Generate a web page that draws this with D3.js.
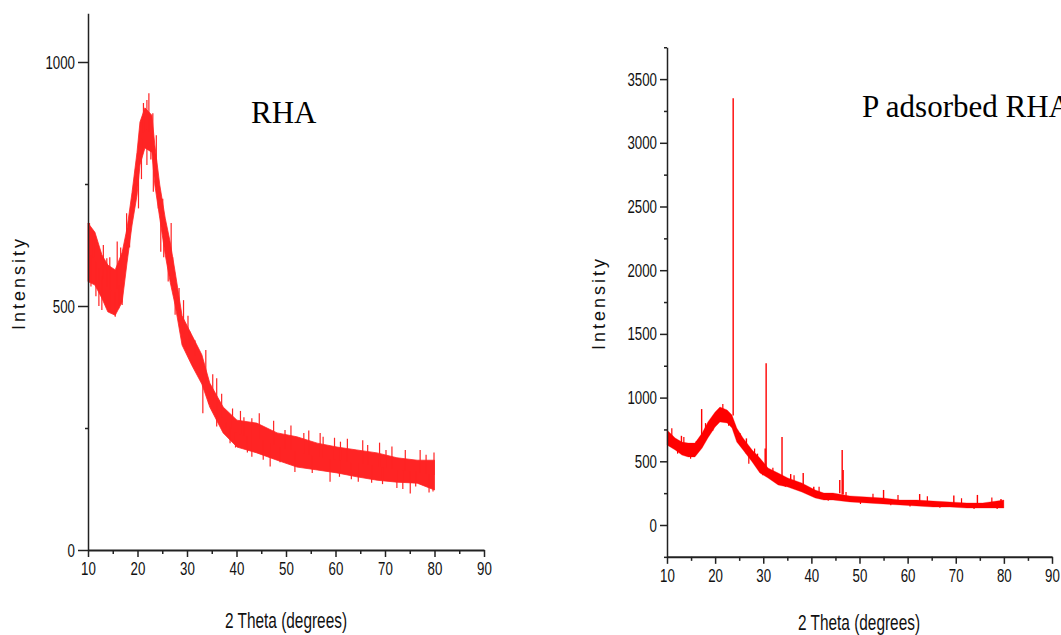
<!DOCTYPE html>
<html>
<head>
<meta charset="utf-8">
<script src="https://cdn.jsdelivr.net/npm/d3@7"></script>
<style>
  html, body { margin: 0; padding: 0; background: #fff; }
  svg { display: block; }
  .tick text { font-family: "Liberation Sans", Arial, sans-serif; font-size: 19px; fill: #111; }
  .axis path, .axis line { stroke: #222; }
</style>
</head>
<body>
<svg id="chart" width="1061" height="635"></svg>
<script>
// ---------------- DATA ----------------
// Left panel: RHA — noisy band (upper / lower envelope) of the XRD pattern
const rhaX  = [10, 11.4, 12.8, 14, 15.5, 16.9, 17.9, 18.9, 19.9, 20.5, 21.5, 22.9, 23.5, 24.5, 25.6, 26.6, 27.6, 29, 31, 33, 34.6, 37.3, 40.1, 44.1, 48.2, 52.2, 56.3, 60.3, 64.3, 68.4, 72.4, 76.5, 80];
const rhaHi = [670, 651, 605, 584, 574, 610, 660, 733, 815, 877, 906, 891, 830, 748, 680, 631, 570, 480, 440, 400, 342, 293, 266, 260, 240, 232, 219, 211, 205, 199, 189, 184, 184];
const rhaLo = [550, 543, 516, 488, 481, 508, 590, 666, 727, 789, 824, 815, 748, 680, 605, 549, 502, 420, 378, 340, 293, 240, 211, 199, 184, 170, 164, 158, 150, 143, 139, 137, 123];
// Left panel: noise spikes that stick out of the band [2θ, intensity]
const rhaSpikes = [
  [22.3, 936], [21.9, 922], [21.2, 916], [23.1, 895], [10.3, 670], [11.1, 652], [13.8, 598],
  [15.9, 632], [17.8, 690], [19.2, 741], [26.8, 670], [28.4, 537], [30.6, 447], [36.0, 352],
  [12.8, 492], [15.5, 478], [16.9, 502], [21.9, 789], [23.2, 734], [24.7, 611], [26.2, 550],
  [27.6, 482], [29.3, 512], [43.1, 270], [49.8, 246], [57.5, 232], [75.1, 116], [79.7, 120],
  [46.8, 171], [58.9, 140], [64.6, 140], [72.4, 127], [33.2, 280], [36.0, 253], [38.7, 219],
  [43.1, 191], [41.5, 272], [53.6, 240], [61.0, 222], [66.5, 215], [70.2, 205], [78.3, 195],
  [10.6, 540], [11.6, 520], [12.2, 500], [13.1, 625], [14.4, 600], [14.7, 485], [16.2, 495],
  [16.6, 620], [17.3, 560], [18.4, 620], [19.6, 780], [20.2, 700], [20.8, 760], [22.7, 800],
  [23.8, 850], [24.2, 700], [25.1, 720], [25.3, 600], [27.1, 600], [27.9, 500], [29.8, 410],
  [30.2, 480], [31.6, 430], [32.4, 360], [33.8, 410], [34.4, 300], [35.2, 360], [37.0, 320],
  [37.8, 250], [39.2, 290], [39.8, 210], [40.8, 285], [42.2, 200], [44.6, 280], [45.4, 185],
  [47.5, 265], [48.8, 180], [51.0, 255], [51.8, 160], [54.6, 245], [55.3, 158], [56.9, 240],
  [59.8, 230], [60.8, 150], [62.4, 228], [63.2, 145], [65.5, 225], [67.3, 138], [68.9, 220],
  [69.5, 135], [71.4, 212], [73.6, 125], [74.1, 205], [76.2, 130], [77.1, 205], [78.9, 118],
  [79.9, 200]
];

// Right panel: P adsorbed RHA — band envelope
const padX  = [10, 11.7, 13.1, 14.4, 15.8, 17.3, 18.5, 20.0, 21.0, 22.5, 23.5, 24.5, 25.8, 27.7, 29.3, 31.0, 33.1, 35.1, 38.0, 40.8, 42.6, 44.5, 48.0, 51.5, 54.9, 58.4, 61.9, 65.3, 68.8, 72.3, 75.6, 80];
const padHi = [746, 683, 651, 643, 643, 722, 809, 887, 926, 903, 863, 761, 683, 589, 526, 447, 408, 369, 330, 275, 251, 251, 228, 220, 212, 196, 196, 188, 181, 173, 173, 196];
const padLo = [628, 589, 549, 534, 534, 604, 683, 769, 809, 801, 761, 651, 589, 495, 408, 369, 314, 298, 259, 212, 196, 196, 181, 173, 165, 157, 149, 141, 141, 133, 133, 133];
// Right panel: noise spikes [2θ, intensity]
const padSpikes = [
  [11.0, 760], [12.2, 560], [13.5, 690], [14.9, 520], [16.1, 660], [18.0, 800], [19.5, 740],
  [21.6, 950], [22.8, 780], [25.2, 720], [27.0, 480], [28.2, 600], [29.9, 390], [32.0, 450],
  [34.6, 300], [36.4, 390], [39.2, 250], [41.6, 300], [43.5, 190], [47.2, 260], [50.2, 165],
  [52.8, 245], [56.5, 155], [58.0, 235], [60.5, 145], [64.1, 225], [66.7, 135], [71.2, 210],
  [73.8, 125], [77.5, 215], [78.6, 125]
];
// Right panel: sharp crystalline peaks [2θ, base, top]
const padPeaks = [
  [17.2, 700, 910], [23.75, 860, 3350], [30.4, 450, 600], [30.6, 450, 1270], [33.9, 380, 691],
  [38.3, 320, 408], [45.9, 250, 353], [46.4, 240, 589], [46.6, 240, 432], [55.0, 200, 275],
  [62.5, 180, 243], [69.6, 170, 232], [74.5, 160, 236], [79.4, 160, 205], [13.0, 600, 700],
  [26.5, 560, 680], [28.8, 470, 560], [35.7, 320, 400], [40.5, 240, 300]
];

// Axis tick values
const xTicks = [10, 20, 30, 40, 50, 60, 70, 80, 90];
const xMinor = [15, 25, 35, 45, 55, 65, 75, 85];
const yTicksL = [0, 500, 1000];
const yMinorL = [250, 750];
const yTicksR = [0, 500, 1000, 1500, 2000, 2500, 3000, 3500];
const yMinorR = [-250, 250, 750, 1250, 1750, 2250, 2750, 3250, 3750];

// ---------------- DRAW ----------------
const svg = d3.select("#chart");
const SX = 0.7; // horizontal condensing of the narrow axis font

function interp(xs, ys, x) {
  for (let i = 0; i < xs.length - 1; i++) {
    if (x >= xs[i] && x <= xs[i + 1]) {
      const t = (x - xs[i]) / (xs[i + 1] - xs[i]);
      return ys[i] + t * (ys[i + 1] - ys[i]);
    }
  }
  return ys[ys.length - 1];
}

function condense(sel) {
  sel.selectAll(".tick text").each(function () {
    const t = d3.select(this);
    const xv = +t.attr("x") || 0;
    t.attr("x", xv / SX).attr("transform", `scale(${SX},1)`);
  });
}

function panel(cfg) {
  const g = svg.append("g");
  const x = d3.scaleLinear().domain([10, 90]).range(cfg.xr);
  const y = d3.scaleLinear().domain(cfg.yd).range(cfg.yr);
  const y0 = cfg.yr[0];

  // band
  const area = d3.area()
    .x((d, i) => x(cfg.bx[i]))
    .y0((d, i) => y(cfg.lo[i]))
    .y1((d, i) => y(cfg.hi[i]));
  g.append("path").datum(cfg.bx).attr("d", area)
    .attr("fill", cfg.color).attr("stroke", cfg.color).attr("stroke-width", cfg.bandStroke);

  // spikes
  g.selectAll("line.sp").data(cfg.spikes).enter().append("line")
    .attr("x1", d => x(d[0])).attr("x2", d => x(d[0]))
    .attr("y1", d => y((interp(cfg.bx, cfg.lo, d[0]) + interp(cfg.bx, cfg.hi, d[0])) / 2))
    .attr("y2", d => y(d[1]))
    .attr("stroke", cfg.color).attr("stroke-width", 1.2);
  if (cfg.peaks) {
    g.selectAll("line.pk").data(cfg.peaks).enter().append("line")
      .attr("x1", d => x(d[0])).attr("x2", d => x(d[0]))
      .attr("y1", d => y(d[1])).attr("y2", d => y(d[2]))
      .attr("stroke", cfg.color).attr("stroke-width", 1.4);
  }

  // axes
  const ax = g.append("g").attr("class", "axis").attr("transform", `translate(0,${y0})`)
    .call(d3.axisBottom(x).tickValues(xTicks).tickSize(7).tickSizeOuter(0).tickFormat(d3.format("d")).tickPadding(5));
  ax.select(".domain").attr("stroke-width", 2);
  ax.selectAll(".tick line").attr("stroke-width", 1.5);
  condense(ax);
  g.append("g").attr("class", "axis").attr("transform", `translate(0,${y0})`)
    .call(d3.axisBottom(x).tickValues(xMinor).tickSize(4).tickSizeOuter(0).tickFormat(""))
    .call(s => s.select(".domain").remove())
    .selectAll(".tick line").attr("stroke-width", 1.5);

  const ay = g.append("g").attr("class", "axis").attr("transform", `translate(${cfg.xr[0]},0)`)
    .call(d3.axisLeft(y).tickValues(cfg.yTicks).tickSize(cfg.ytl).tickSizeOuter(0).tickFormat(d3.format("d")).tickPadding(3));
  ay.select(".domain").attr("stroke-width", 1.5);
  ay.selectAll(".tick line").attr("stroke-width", 1.5);
  condense(ay);
  g.append("g").attr("class", "axis").attr("transform", `translate(${cfg.xr[0]},0)`)
    .call(d3.axisLeft(y).tickValues(cfg.yMinor).tickSize(3).tickSizeOuter(0).tickFormat(""))
    .call(s => s.select(".domain").remove())
    .selectAll(".tick line").attr("stroke-width", 1.5);

  // labels
  g.append("text").attr("transform", `translate(${cfg.xtx},${cfg.xty}) scale(${SX},1)`).attr("text-anchor", "middle")
    .style("font-family", '"Liberation Sans", Arial, sans-serif').style("font-size", "22px").attr("fill", "#111")
    .text("2 Theta (degrees)");
  g.append("text").attr("transform", `translate(${cfg.ytx},${cfg.yty}) rotate(-90)`).attr("text-anchor", "middle")
    .style("font-family", '"Liberation Sans", Arial, sans-serif').style("font-size", "18px").style("letter-spacing", "3px").attr("fill", "#111")
    .text("Intensity");
  g.append("text").attr("x", cfg.tx).attr("y", cfg.ty)
    .style("font-family", '"Liberation Serif", "Times New Roman", serif').style("font-size", "31px").attr("fill", "#000")
    .text(cfg.title);
}

panel({
  xr: [88, 484], yd: [0, 1100], yr: [550, 13.2],
  bx: rhaX, hi: rhaHi, lo: rhaLo, spikes: rhaSpikes, color: "#ff2424", bandStroke: 0.8,
  yTicks: yTicksL, yMinor: yMinorL, ytl: 10,
  xtx: 286, xty: 628, ytx: 25, yty: 283, tx: 251, ty: 123, title: "RHA"
});
panel({
  xr: [667, 1052], yd: [-250, 3750], yr: [556.85, 47.25],
  bx: padX, hi: padHi, lo: padLo, spikes: padSpikes, peaks: padPeaks, color: "#ff0000", bandStroke: 0.3,
  yTicks: yTicksR, yMinor: yMinorR, ytl: 7,
  xtx: 859, xty: 630, ytx: 605, yty: 303, tx: 862, ty: 117, title: "P adsorbed RHA"
});
</script>
</body>
</html>
